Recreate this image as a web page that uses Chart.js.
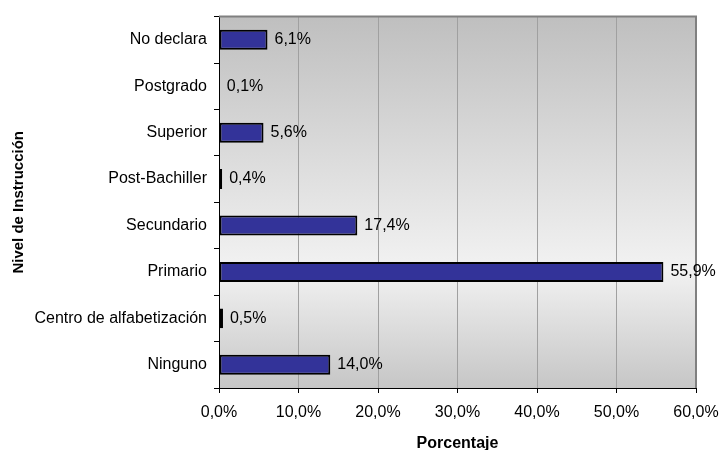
<!DOCTYPE html>
<html>
<head>
<meta charset="utf-8">
<script src="https://cdn.jsdelivr.net/npm/chart.js@4"></script>
<style>
  html, body { margin:0; padding:0; background:#fff; }
  #wrap { width:719px; height:450px; position:relative; }
</style>
</head>
<body>
<div id="wrap"><canvas id="ch" width="719" height="450"></canvas></div>
<script>
const niveles = ['No declara','Postgrado','Superior','Post-Bachiller','Secundario','Primario','Centro de alfabetización','Ninguno'];
const porcentajes = [6.1, 0.1, 5.6, 0.4, 17.4, 55.9, 0.5, 14.0];
const xTicks = [0, 10, 20, 30, 40, 50, 60];

const FONT = "'Liberation Sans', Arial, sans-serif";
const fmt = v => v.toFixed(1).replace('.', ',') + '%';

// gradient plot background + gray frame on top/right
const plotBg = {
  id:'plotBg',
  beforeDraw(chart) {
    const { ctx, chartArea:a } = chart;
    const g = ctx.createLinearGradient(0, a.top, 0, a.bottom);
    g.addColorStop(0, '#bfbfbf');
    g.addColorStop(0.68, '#f2f2f2');
    g.addColorStop(1, '#c6c6c6');
    ctx.save();
    ctx.fillStyle = g;
    ctx.fillRect(a.left, a.top, a.right - a.left, a.bottom - a.top);
    ctx.restore();
  },
  afterDatasetsDraw(chart) {
    const { ctx, chartArea:a } = chart;
    ctx.save();
    ctx.strokeStyle = '#808080'; ctx.lineWidth = 2;
    ctx.beginPath();
    ctx.moveTo(a.left, a.top); ctx.lineTo(a.right, a.top); ctx.lineTo(a.right, a.bottom);
    ctx.stroke();
    ctx.restore();
  }
};

// value labels at the end of bars
const barLabels = {
  id:'barLabels',
  afterDatasetsDraw(chart) {
    const { ctx } = chart;
    const meta = chart.getDatasetMeta(0);
    ctx.save();
    ctx.font = '16px ' + FONT;
    ctx.fillStyle = '#000';
    ctx.textBaseline = 'middle';
    ctx.textAlign = 'left';
    meta.data.forEach((bar, i) => {
      ctx.fillText(fmt(porcentajes[i]), bar.x + 7, bar.y);
    });
    ctx.restore();
  }
};

new Chart(document.getElementById('ch'), {
  type:'bar',
  data:{ labels:niveles, datasets:[{ data:porcentajes, backgroundColor:'#333399',
    borderColor:'#000', borderWidth:2, borderSkipped:false,
    categoryPercentage:1, barPercentage:0.43 }] },
  options:{
    indexAxis:'y', responsive:false, animation:false,
    layout:{ padding:{ top:15, right:23, left:0, bottom:0 } },
    plugins:{ legend:{ display:false }, tooltip:{ enabled:false } },
    scales:{
      x:{
        min:0, max:60,
        afterBuildTicks: s => { s.ticks = xTicks.map(v => ({ value:v })); },
        afterFit: s => { s.height = 62; s.paddingRight = 0; s.paddingLeft = 0; },
        border:{ color:'#000', width:1 },
        grid:{ color:'#a0a0a0', lineWidth:1, tickColor:'#000', tickLength:5, drawTicks:true },
        ticks:{ callback:v => fmt(v), color:'#000', font:{ family:FONT, size:16 }, padding:10, maxRotation:0 },
        title:{ display:true, text:'Porcentaje', color:'#000', font:{ family:FONT, size:16, weight:'bold' }, padding:{ top:4, bottom:-3 } }
      },
      y:{
        afterFit: s => { s.width = 219; },
        border:{ color:'#000', width:1 },
        grid:{ drawOnChartArea:false, offset:true, tickColor:'#000', tickLength:5 },
        ticks:{ color:'#000', font:{ family:FONT, size:16 }, padding:7 },
        title:{ display:true, text:'Nivel de Instrucción', color:'#000', font:{ family:FONT, size:15, weight:'bold' }, padding:{ top:10, bottom:0 } }
      }
    }
  },
  plugins:[plotBg, barLabels]
});
</script>
</body>
</html>
